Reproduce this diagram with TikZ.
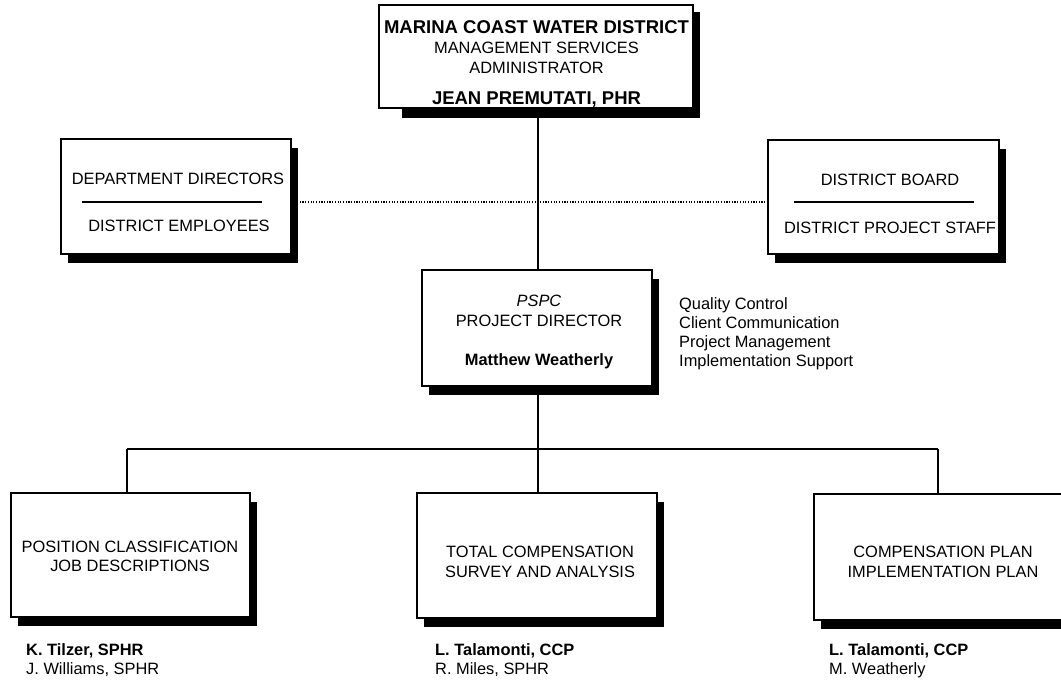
\documentclass[tikz,border=0pt]{standalone}
\usepackage{fontspec}
\setmainfont{Liberation Sans}
\usetikzlibrary{shadows}
\tikzset{
  box/.style={draw=black, line width=1.3pt, fill=white, inner sep=0pt},
  shadowed/.style={drop shadow={shadow xshift=7pt, shadow yshift=-9pt, fill=black, opacity=1}},
  txt/.style={font=\fontsize{16.4}{19}\selectfont, inner sep=0pt, anchor=base, text=black},
  btxt/.style={txt, font=\fontsize{16.4}{19}\selectfont\bfseries},
  ttl/.style={txt, font=\fontsize{18.5}{21}\selectfont\bfseries},
  ltxt/.style={txt, anchor=base west},
  lbtxt/.style={btxt, anchor=base west},
  link/.style={line width=1.3pt},
  dotline/.style={line width=1.4pt, dash pattern=on 1.2pt off 1.5pt},
  rule/.style={line width=1.2pt},
}
\begin{document}
\begin{tikzpicture}[x=1pt, y=-1pt]
\useasboundingbox (0,0) rectangle (1061,680);
% top box (its shadow starts further right)
\fill[black] (402,12) rectangle (700,118);
\node[box, minimum width=314pt, minimum height=103pt] (top) at (536,56.5) {};
\node[ttl] (t1) at (536.5,33.5) {MARINA COAST WATER DISTRICT};
\node[txt] (t2) at (536.5,53.7) {MANAGEMENT SERVICES};
\node[txt] (t3) at (536.5,73.7) {ADMINISTRATOR};
\node[ttl] (t4) at (536.5,104.5) {JEAN PREMUTATI, PHR};

% side boxes
\node[box, shadowed, minimum width=230pt, minimum height=115pt] (left) at (176,196.5) {};
\node[txt] (l1) at (178,184) {DEPARTMENT DIRECTORS};
\node[txt] (l2) at (179,231) {DISTRICT EMPLOYEES};
\draw[rule] (82,202) -- (262,202);

\node[box, shadowed, minimum width=231pt, minimum height=114pt] (right) at (883.5,197) {};
\node[txt] (r1) at (890,185) {DISTRICT BOARD};
\node[txt] (r2) at (890,233) {DISTRICT PROJECT STAFF};
\draw[rule] (794,202) -- (974,202);

% project director
\node[box, shadowed, minimum width=230pt, minimum height=116pt] (mid) at (537,328) {};
\node[txt, font=\fontsize{16.4}{19}\selectfont\itshape] (m1) at (539,306) {PSPC};
\node[txt] (m2) at (539,326) {PROJECT DIRECTOR};
\node[btxt] (m3) at (539,365) {Matthew Weatherly};

\node[ltxt] (q1) at (679,309) {Quality Control};
\node[ltxt] (q2) at (679,328.3) {Client Communication};
\node[ltxt] (q3) at (679,347.6) {Project Management};
\node[ltxt] (q4) at (679,366.9) {Implementation Support};

% bottom boxes
\node[box, shadowed, minimum width=239pt, minimum height=124pt] (b1) at (130.5,555) {};
\node[txt] (b1a) at (130,552) {POSITION CLASSIFICATION};
\node[txt] (b1b) at (130,571) {JOB DESCRIPTIONS};
\node[lbtxt] (n1a) at (26,655) {K. Tilzer, SPHR};
\node[ltxt] (n1b) at (26,674) {J. Williams, SPHR};

\node[box, shadowed, minimum width=240pt, minimum height=125pt] (b2) at (537,555.5) {};
\node[txt] (b2a) at (540,557) {TOTAL COMPENSATION};
\node[txt] (b2b) at (540,577) {SURVEY AND ANALYSIS};
\node[lbtxt] (n2a) at (435,655) {L. Talamonti, CCP};
\node[ltxt] (n2b) at (435,674) {R. Miles, SPHR};

\node[box, shadowed, minimum width=258pt, minimum height=126pt] (b3) at (943,557) {};
\node[txt] (b3a) at (943,557) {COMPENSATION PLAN};
\node[txt] (b3b) at (943,577) {IMPLEMENTATION PLAN};
\node[lbtxt] (n3a) at (829,655) {L. Talamonti, CCP};
\node[ltxt] (n3b) at (829,674) {M. Weatherly};

% connectors
\coordinate (busM) at (538,449);
\coordinate (busL) at (127,449);
\coordinate (busR) at (938,449);
\draw[link] (top.south -| busM) -- (mid.north -| busM);
\draw[dotline] ([yshift=-5.5pt]left.east) -- ([yshift=-5pt]right.west);
\draw[link] (mid.south -| busM) -- (busM);
\draw[link] (busL) -- (busR);
\draw[link] (busL) -- (busL |- b1.north);
\draw[link] (busM) -- (busM |- b2.north);
\draw[link] (busR) -- (busR |- b3.north);
\end{tikzpicture}
\end{document}
